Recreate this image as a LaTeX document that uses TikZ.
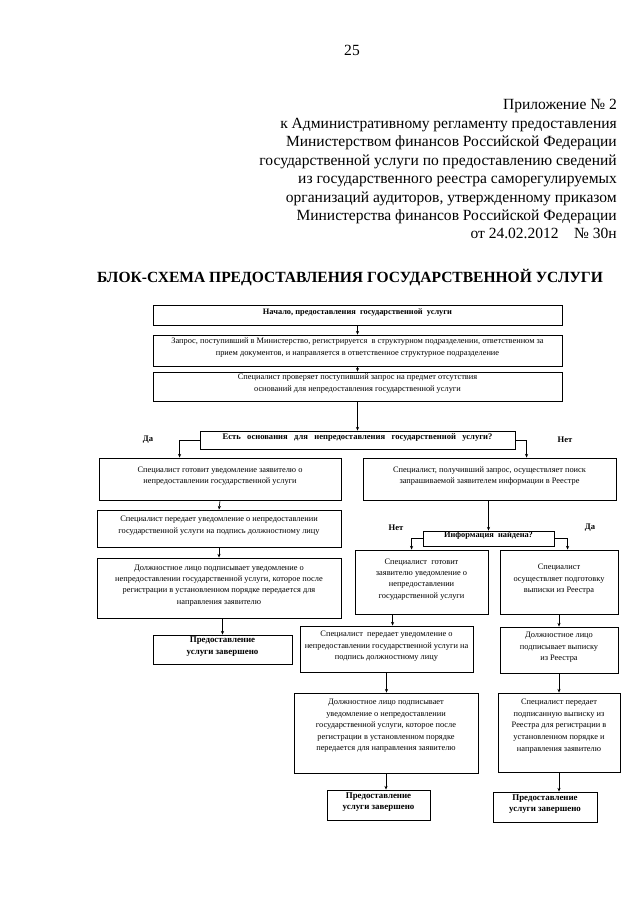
\documentclass[tikz,border=0pt]{standalone}
\usepackage{fontspec}
\setmainfont{Liberation Serif}
\usetikzlibrary{fit,calc,arrows.meta}
\begin{document}
\begin{tikzpicture}[x=0.0328125cm,y=-0.0328125cm,
  box/.style={draw, line width=0.8pt, inner sep=0pt, align=center, font=\fontsize{7.8}{10.6}\selectfont},
  bbox/.style={box, font=\fontsize{8.3}{10.6}\selectfont\bfseries},
  toptxt/.style={align=center, inner sep=0pt, anchor=north, yshift=-6pt, font=\fontsize{7.8}{10.8}\selectfont},
  arr/.style={line width=0.6pt, -{Stealth[length=3.5pt,width=3pt]}},
  lbl/.style={font=\fontsize{8}{10}\selectfont\bfseries, inner sep=0pt}]
\useasboundingbox[fill=white] (0,0) rectangle (640,905);

\node[font=\fontsize{14.5}{17}\selectfont, inner sep=0pt] (pg) at (352,50) {25};
\node[anchor=north east, align=right, inner sep=0pt, font=\fontsize{14.5}{17.2}\selectfont] (hdr) at (617,99.5)
 {Приложение № 2\\
  к Административному регламенту предоставления\\
  Министерством финансов Российской Федерации\\
  государственной услуги по предоставлению сведений\\
  из государственного реестра саморегулируемых\\
  организаций аудиторов, утвержденному приказом\\
  Министерства финансов Российской Федерации\\
  от 24.02.2012\quad № 30н};
\node[font=\fontsize{14.5}{17}\selectfont\bfseries, inner sep=0pt] (ttl) at (350,278)
 {БЛОК-СХЕМА ПРЕДОСТАВЛЕНИЯ ГОСУДАРСТВЕННОЙ УСЛУГИ};

\node[bbox, font=\fontsize{7.8}{10.6}\selectfont\bfseries, fit={(153,305) (562,325)}] (b1) {Начало, предоставления\ \ государственной\ \ услуги};
\node[box, fit={(153,335) (562,366)}] (b2) {Запрос, поступивший в Министерство, регистрируется\ \ в структурном подразделении, ответственном за\\ прием документов, и направляется в ответственное структурное подразделение};
\node[box, fit={(153,372) (562,401)}] (b3) {Специалист проверяет поступивший запрос на предмет отсутствия\\ оснований для непредоставления государственной услуги};
\node[bbox, font=\fontsize{8}{10.6}\selectfont\bfseries, fit={(200,431) (515,449)}] (d1) {Есть\ \ \ основания\ \ \ для\ \ \ непредоставления\ \ \ государственной\ \ \ услуги?};

\node[box, fit={(99,458) (341,500)}] (a1) {Специалист готовит уведомление заявителю о\\ непредоставлении государственной услуги};
\node[box, fit={(363,458) (616,500)}] (bb1) {Специалист, получивший запрос, осуществляет поиск\\ запрашиваемой заявителем информации в Реестре};
\node[box, fit={(97,510) (341,547)}] (a2) {Специалист передает уведомление о непредоставлении\\ государственной услуги на подпись должностному лицу};
\node[box, fit={(97,558) (341,618)}] (a3) {Должностное лицо подписывает уведомление о\\ непредоставлении государственной услуги, которое после\\ регистрации в установленном порядке передается для\\ направления заявителю};
\node[bbox, fit={(153,635) (292,664)}] (a4) {Предоставление\\ услуги завершено};

\node[bbox, font=\fontsize{7.8}{10.6}\selectfont\bfseries, fit={(423,531) (554,546)}] (d2) {Информация\ \ найдена?};
\node[box, fit={(355,550) (488,614)}] (c1) {Специалист\ \ готовит\\ заявителю уведомление о\\ непредоставлении\\ государственной услуги};
\node[box, fit={(500,550) (618,614)}] (e1) {Специалист\\ осуществляет подготовку\\ выписки из Реестра};
\node[box, fit={(300,626) (473,672)}] (c2) {Специалист\ \ передает уведомление о\\ непредоставлении государственной услуги на\\ подпись должностному лицу};
\node[box, fit={(500,627) (618,673)}] (e2) {Должностное лицо\\ подписывает выписку\\ из Реестра};
\node[box, fit={(294,693) (478,773)},
  label={[toptxt]north:{Должностное лицо подписывает\\ уведомление о непредоставлении\\ государственной услуги, которое после\\ регистрации в установленном порядке\\ передается для направления заявителю}}] (c3) {};
\node[box, fit={(498,693) (620,772)},
  label={[toptxt]north:{Специалист передает\\ подписанную выписку из\\ Реестра для регистрации в\\ установленном порядке и\\ направления заявителю}}] (e3) {};
\node[bbox, fit={(327,790) (430,820)}] (c4) {Предоставление\\ услуги завершено};
\node[bbox, fit={(493,792) (597,822)}] (e4) {Предоставление\\ услуги завершено};

\node[lbl] (ly1) at (148,440) {Да};
\node[lbl] (ln1) at (565,440) {Нет};
\node[lbl] (ln2) at (396,528) {Нет};
\node[lbl] (ly2) at (590,528) {Да};

\coordinate (c1o) at ($(c1.south west)+(38,0)$);

\draw[arr] (b1.south) -- (b2.north);
\draw[arr] (b2.south) -- (b3.north);
\draw[arr] (b3.south) -- (d1.north);
\draw[arr] (d1.west) -| ($(a1.north west)+(81,0)$);
\draw[arr] (d1.east) -| ($(bb1.north west)+(164,0)$);
\draw[arr] (a1.south) -- (a2.north);
\draw[arr] (a2.south) -- (a3.north);
\draw[arr] (a4.north |- a3.south) -- (a4.north);
\draw[arr] (d2.north |- bb1.south) -- (d2.north);
\draw[arr] (d2.west) -| ($(c1.north west)+(57,0)$);
\draw[arr] (d2.east) -| ($(e1.north west)+(68,0)$);
\draw[arr] (c1o) -- (c1o |- c2.north);
\draw[arr] (c2.south) -- (c2.south |- c3.north);
\draw[arr] (c3.south) -- (c3.south |- c4.north);
\draw[arr] (e1.south) -- (e2.north);
\draw[arr] (e2.south) -- (e3.north);
\draw[arr] (e3.south) -- (e3.south |- e4.north);
\end{tikzpicture}
\end{document}
